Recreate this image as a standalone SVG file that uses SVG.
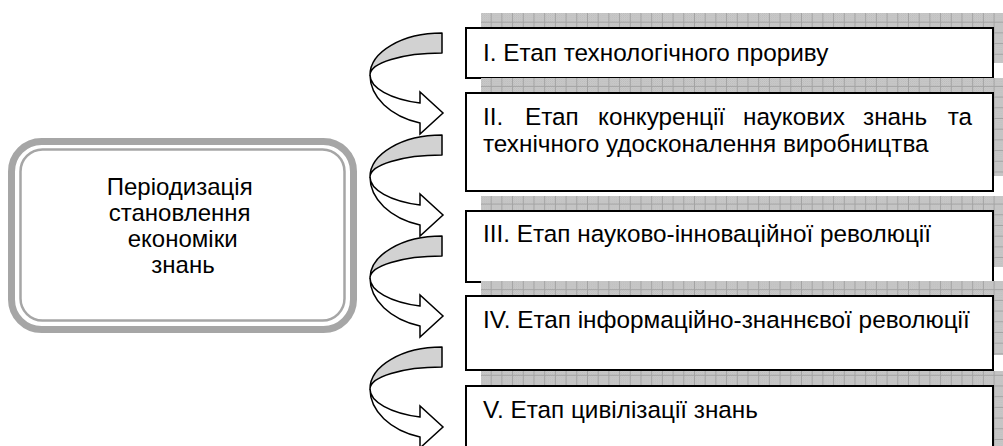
<svg xmlns="http://www.w3.org/2000/svg" width="1003" height="446" viewBox="0 0 1003 446">
  <style>
    .txt { font-family: "Liberation Sans", Arial, sans-serif; fill: #000; }
    .stage-text { font-size: 24.3px; }
    .main-text { font-size: 24px; }
    .stage { fill: #fff; stroke: #000; stroke-width: 2; }
    .shadow { fill: url(#hatch); }
    .back { fill: #d2d2d2; stroke: #000; stroke-width: 1.5; stroke-linejoin: round; }
    .front { fill: #fff; stroke: #000; stroke-width: 1.5; stroke-linejoin: miter; }
  </style>
  <defs>
    <!-- fine 2px checker used inside the grid cells -->
    <pattern id="dots" patternUnits="userSpaceOnUse" width="2" height="2">
      <rect width="2" height="2" fill="#d0d0d0"/>
      <rect width="1" height="1" fill="#bababa"/>
      <rect x="1" y="1" width="1" height="1" fill="#bababa"/>
    </pattern>
    <!-- grid of cells for the offset shadows behind the stage boxes -->
    <pattern id="hatch" patternUnits="userSpaceOnUse" x="480" y="11" width="10.7" height="10.7">
      <rect width="10.7" height="10.7" fill="url(#dots)"/>
      <path d="M0,0.5H10.7M0.5,0V10.7" stroke="#a3a3a3" stroke-width="1" fill="none"/>
    </pattern>
    <!-- curved arrow: shaded back band plus white front band with head -->
    <g id="curl">
      <path class="back" d="M0,0 A72,42 0 0 0 -72,42 A72,22 0 0 1 0,20 Z"/>
      <path class="front" d="M-72,42 A72,29.4 0 0 0 -22,70 L-22,59 L1,80 L-22,101 L-22,90 A72,50.4 0 0 1 -72,42 Z"/>
    </g>
  </defs>

  <!-- title node -->
  <g id="node-title">
    <rect x="11.5" y="141.5" width="342" height="188" rx="30" ry="30" fill="#fff" stroke="#a6a6a6" stroke-width="7"/>
    <rect x="20.5" y="149.5" width="324" height="171" rx="22" ry="22" fill="none" stroke="#a6a6a6" stroke-width="2.5"/>
    <text class="txt main-text" text-anchor="middle">
      <tspan x="183" y="195">Періодизація</tspan>
      <tspan x="183" y="221">становлення</tspan>
      <tspan x="186" y="247">економіки</tspan>
      <tspan x="183" y="273">знань</tspan>
    </text>
  </g>

  <!-- connectors: curved arrows between stages -->
  <g id="connectors">
    <use href="#curl" transform="translate(442,33)"/>
    <use href="#curl" transform="translate(442,135)"/>
    <use href="#curl" transform="translate(442,236)"/>
    <use href="#curl" transform="translate(442,347)"/>
  </g>

  <!-- stage nodes -->
  <g id="stage-1">
    <rect class="shadow" x="481" y="13" width="527" height="50"/>
    <rect class="stage" x="466" y="28" width="527" height="50"/>
    <text class="txt stage-text" x="483" y="61">I. Етап технологічного прориву</text>
  </g>
  <g id="stage-2">
    <rect class="shadow" x="481" y="78" width="527" height="98"/>
    <rect class="stage" x="466" y="93" width="527" height="98"/>
    <!-- justified first line -->
    <text class="txt stage-text" y="125">
      <tspan x="483">II.</tspan>
      <tspan x="525">Етап</tspan>
      <tspan x="598">конкуренції</tspan>
      <tspan x="743">наукових</tspan>
      <tspan x="863">знань</tspan>
      <tspan x="972" text-anchor="end">та</tspan>
    </text>
    <text class="txt stage-text" x="483" y="152">технічного удосконалення виробництва</text>
  </g>
  <g id="stage-3">
    <rect class="shadow" x="481" y="196" width="527" height="71"/>
    <rect class="stage" x="466" y="211" width="527" height="71"/>
    <text class="txt stage-text" x="483" y="242">III. Етап науково-інноваційної революції</text>
  </g>
  <g id="stage-4">
    <rect class="shadow" x="481" y="281" width="527" height="74"/>
    <rect class="stage" x="466" y="296" width="527" height="74"/>
    <text class="txt stage-text" x="483" y="328">IV. Етап інформаційно-знаннєвої революції</text>
  </g>
  <g id="stage-5">
    <rect class="shadow" x="481" y="371" width="527" height="80"/>
    <rect class="stage" x="466" y="386" width="527" height="80"/>
    <text class="txt stage-text" x="483" y="418">V. Етап цивілізації знань</text>
  </g>
</svg>
